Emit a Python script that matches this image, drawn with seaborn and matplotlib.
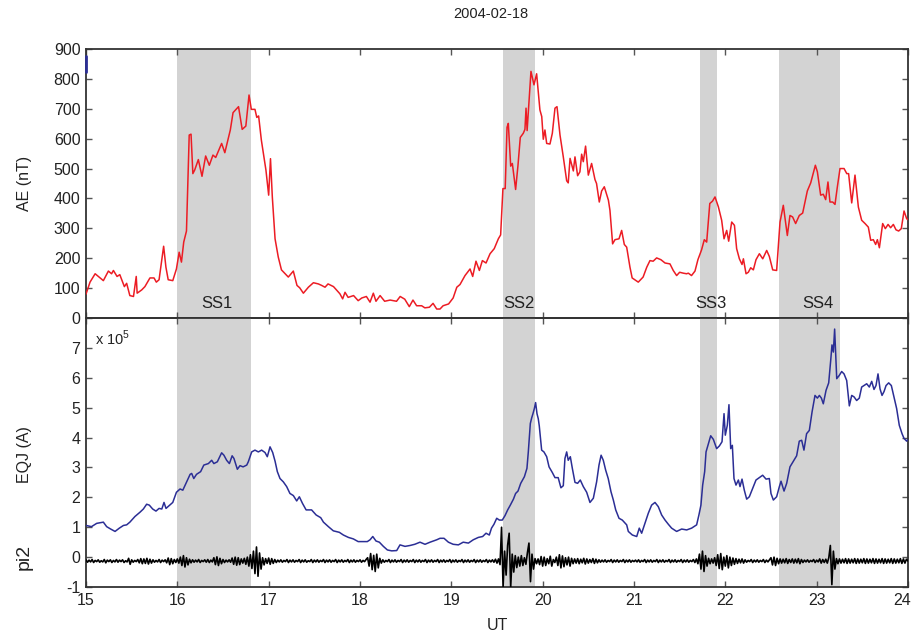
import numpy as np
import pandas as pd
import matplotlib
matplotlib.use("Agg")
import matplotlib.pyplot as plt
import matplotlib.transforms as mtransforms
import seaborn as sns

# ---------------- data ----------------
title = "2004-02-18"

ss_labels = ["SS1", "SS2", "SS3", "SS4"]
ss_start = [16.00, 19.565, 21.722, 22.588]
ss_end = [16.805, 19.916, 21.905, 23.256]
ss_label_t = [16.43, 19.74, 21.84, 23.01]

ae_t = [15.0, 15.044, 15.10, 15.19, 15.245, 15.28, 15.30, 15.34, 15.37, 15.42, 15.445, 15.48, 15.52, 15.55, 15.56,
        15.61, 15.645, 15.70, 15.745, 15.77, 15.80, 15.85, 15.875, 15.90, 15.95, 15.99, 16.02, 16.045, 16.07, 16.10,
        16.13, 16.15, 16.17, 16.19, 16.23, 16.27, 16.31, 16.35, 16.39, 16.42, 16.485, 16.52, 16.58, 16.61, 16.67,
        16.71, 16.75, 16.785, 16.81, 16.85, 16.87, 16.89, 16.92, 16.97, 17.0, 17.02, 17.04, 17.07, 17.105, 17.14,
        17.215, 17.27, 17.31, 17.34, 17.38, 17.435, 17.49, 17.544, 17.58, 17.617, 17.65, 17.71, 17.78, 17.81, 17.836,
        17.87, 17.93, 17.98, 18.02, 18.07, 18.11, 18.146, 18.175, 18.22, 18.27, 18.33, 18.40, 18.44, 18.49, 18.54,
        18.58, 18.62, 18.675, 18.71, 18.76, 18.80, 18.84, 18.876, 18.91, 18.97, 19.02, 19.06, 19.095, 19.15, 19.205,
        19.234, 19.27, 19.307, 19.34, 19.38, 19.424, 19.47, 19.515, 19.54, 19.565, 19.59, 19.61, 19.624, 19.65, 19.668,
        19.704, 19.73, 19.755, 19.788, 19.806, 19.818, 19.83, 19.872, 19.905, 19.934, 19.97, 19.99, 20.007, 20.025,
        20.044, 20.08, 20.106, 20.135, 20.157, 20.19, 20.226, 20.263, 20.28, 20.30, 20.336, 20.354, 20.383, 20.408,
        20.427, 20.445, 20.47, 20.50, 20.536, 20.573, 20.59, 20.62, 20.646, 20.675, 20.72, 20.737, 20.766, 20.792,
        20.836, 20.865, 20.894, 20.92, 20.956, 20.98, 21.047, 21.10, 21.14, 21.175, 21.21, 21.248, 21.295, 21.34,
        21.394, 21.43, 21.467, 21.50, 21.54, 21.576, 21.595, 21.63, 21.668, 21.70, 21.74, 21.77, 21.796, 21.83,
        21.86, 21.887, 21.924, 21.96, 21.986, 22.015, 22.037, 22.07, 22.10, 22.124, 22.154, 22.183, 22.198, 22.227,
        22.252, 22.278, 22.307, 22.336, 22.373, 22.41, 22.453, 22.482, 22.519, 22.562, 22.599, 22.635, 22.679,
        22.708, 22.737, 22.77, 22.81, 22.847, 22.898, 22.935, 22.986, 23.008, 23.044, 23.073, 23.099, 23.124,
        23.146, 23.176, 23.201, 23.227, 23.256, 23.30, 23.33, 23.35, 23.384, 23.42, 23.457, 23.493, 23.53, 23.566,
        23.592, 23.621, 23.646, 23.665, 23.687, 23.723, 23.752, 23.782, 23.81, 23.84, 23.869, 23.898, 23.927,
        23.957, 23.986, 24.0]
ae_nT = [80, 120, 148, 125, 157, 148, 159, 139, 145, 105, 116, 75, 72, 139, 83,
         94, 105, 134, 134, 120, 128, 240, 170, 128, 125, 164, 220, 187, 254, 291,
         612, 615, 483, 495, 530, 474, 542, 511, 545, 537, 584, 553, 629, 687, 707,
         631, 642, 746, 698, 698, 671, 676, 595, 495, 411, 533, 405, 265, 204, 161,
         137, 157, 109, 101, 83, 103, 118, 114, 109, 103, 114, 105, 81, 64, 86,
         69, 75, 58, 67, 72, 53, 83, 56, 75, 56, 60, 56, 72, 63, 38,
         60, 41, 41, 34, 36, 49, 30, 30, 41, 47, 67, 103, 112, 142, 164,
         139, 190, 159, 192, 184, 215, 232, 265, 278, 433, 433, 638, 651, 508, 517,
         430, 511, 604, 618, 631, 702, 627, 825, 780, 817, 696, 674, 598, 629,
         584, 582, 618, 702, 707, 612, 539, 459, 452, 534, 492, 539, 476, 489,
         548, 523, 575, 478, 517, 463, 450, 388, 425, 439, 394, 360, 248, 262,
         265, 293, 246, 237, 170, 134, 120, 137, 170, 192, 190, 201, 195, 184,
         181, 159, 142, 153, 150, 148, 150, 142, 157, 195, 228, 262, 254, 383,
         391, 405, 372, 327, 265, 293, 257, 321, 310, 232, 198, 179, 198, 148,
         153, 168, 161, 195, 215, 198, 226, 206, 161, 159, 321, 377, 276,
         343, 338, 316, 343, 351, 425, 452, 511, 489, 411, 414, 396, 455,
         388, 388, 380, 439, 500, 500, 483, 483, 385, 478, 371, 327, 316, 304,
         260, 262, 246, 262, 235, 316, 299, 313, 302, 313, 295, 291, 299,
         358, 332, 329]

# small blue trace visible at the top-left corner of the AE panel
corner_t = [15.0, 15.0]
corner_nT = [822, 875]

eqj_t = [15.0, 15.06, 15.117, 15.19, 15.226, 15.27, 15.318, 15.365, 15.41, 15.445, 15.48, 15.536, 15.59, 15.628,
         15.664, 15.693, 15.73, 15.766, 15.80, 15.83, 15.854, 15.876, 15.91, 15.95, 15.99, 16.03, 16.06, 16.095,
         16.14, 16.157, 16.18, 16.21, 16.255, 16.29, 16.34, 16.376, 16.40, 16.438, 16.485, 16.51, 16.54, 16.57,
         16.60, 16.62, 16.657, 16.686, 16.72, 16.76, 16.777, 16.814, 16.85, 16.887, 16.923, 16.96, 16.985, 17.015,
         17.044, 17.07, 17.095, 17.124, 17.16, 17.197, 17.233, 17.27, 17.307, 17.336, 17.37, 17.41, 17.47, 17.52,
         17.57, 17.60, 17.654, 17.708, 17.774, 17.818, 17.873, 17.927, 17.98, 18.037, 18.08, 18.11, 18.14, 18.175,
         18.212, 18.256, 18.30, 18.347, 18.402, 18.438, 18.493, 18.548, 18.60, 18.657, 18.712, 18.767, 18.84,
         18.876, 18.92, 18.968, 19.02, 19.077, 19.13, 19.187, 19.24, 19.296, 19.343, 19.38, 19.416, 19.44, 19.467,
         19.497, 19.526, 19.558, 19.588, 19.617, 19.646, 19.68, 19.704, 19.73, 19.76, 19.80, 19.828, 19.843,
         19.865, 19.88, 19.894, 19.909, 19.923, 19.938, 19.952, 19.963, 19.989, 20.014, 20.044, 20.07, 20.106,
         20.135, 20.17, 20.20, 20.226, 20.244, 20.263, 20.28, 20.303, 20.325, 20.354, 20.383, 20.412, 20.445,
         20.482, 20.518, 20.555, 20.591, 20.617, 20.64, 20.664, 20.69, 20.718, 20.748, 20.774, 20.80, 20.836,
         20.872, 20.92, 20.938, 20.982, 21.03, 21.058, 21.084, 21.12, 21.157, 21.193, 21.23, 21.266, 21.303,
         21.34, 21.376, 21.412, 21.467, 21.522, 21.577, 21.631, 21.686, 21.711, 21.733, 21.752, 21.774, 21.789,
         21.81, 21.84, 21.869, 21.905, 21.935, 21.964, 21.986, 22.0, 22.022, 22.04, 22.059, 22.077, 22.095,
         22.117, 22.143, 22.161, 22.183, 22.208, 22.234, 22.263, 22.30, 22.336, 22.373, 22.409, 22.446, 22.482,
         22.50, 22.526, 22.562, 22.592, 22.61, 22.643, 22.672, 22.708, 22.745, 22.781, 22.81, 22.836, 22.861,
         22.89, 22.92, 22.95, 22.982, 23.008, 23.03, 23.052, 23.073, 23.103, 23.132, 23.154, 23.168, 23.183,
         23.197, 23.208, 23.22, 23.248, 23.274, 23.30, 23.329, 23.358, 23.384, 23.41, 23.438, 23.467, 23.493,
         23.519, 23.548, 23.577, 23.603, 23.628, 23.65, 23.672, 23.694, 23.716, 23.738, 23.76, 23.789, 23.818,
         23.847, 23.876, 23.905, 23.935, 23.957, 23.986, 24.0]
eqj_1e5A = [1.06, 1.02, 1.13, 1.17, 1.02, 0.94, 0.86, 0.97, 1.06, 1.08, 1.17, 1.36, 1.50, 1.61,
            1.77, 1.74, 1.61, 1.54, 1.63, 1.61, 1.83, 1.63, 1.72, 1.83, 2.17, 2.28, 2.24, 2.47,
            2.77, 2.80, 2.63, 2.77, 2.86, 3.08, 3.13, 3.24, 3.13, 3.19, 3.49, 3.41, 3.24, 3.13,
            3.39, 3.30, 2.94, 3.06, 3.02, 3.08, 3.19, 3.52, 3.58, 3.52, 3.58, 3.50, 3.36, 3.69,
            3.50, 3.21, 2.86, 2.63, 2.52, 2.36, 2.13, 2.06, 1.88, 2.02, 1.80, 1.58, 1.58, 1.41,
            1.32, 1.17, 1.02, 0.88, 0.83, 0.74, 0.66, 0.61, 0.52, 0.52, 0.52, 0.58, 0.69, 0.54,
            0.50, 0.36, 0.24, 0.21, 0.22, 0.41, 0.36, 0.39, 0.43, 0.50, 0.43, 0.50, 0.58,
            0.63, 0.63, 0.50, 0.43, 0.41, 0.50, 0.47, 0.58, 0.66, 0.69, 0.80, 0.74, 0.97, 1.10,
            1.30, 1.24, 1.24, 1.39, 1.58, 1.74, 1.94, 2.13, 2.21, 2.47, 2.69, 2.97, 3.52,
            4.47, 4.66, 4.80, 4.97, 5.17, 4.80, 4.63, 4.39, 3.58, 3.52, 3.36, 3.02, 2.83,
            2.66, 2.66, 2.32, 2.39, 3.30, 3.52, 3.24, 3.36, 2.97, 2.50, 2.47, 2.58, 2.36,
            2.17, 1.83, 1.97, 2.52, 3.08, 3.41, 3.24, 2.91, 2.63, 2.19, 1.91, 1.58, 1.30,
            1.24, 1.08, 0.86, 0.74, 0.69, 0.97, 0.80, 1.13, 1.47, 1.74, 1.83, 1.69, 1.41,
            1.24, 1.10, 0.97, 0.86, 0.94, 0.91, 0.97, 1.08, 1.41, 1.74, 2.41, 2.86, 3.52,
            3.74, 4.06, 3.94, 3.63, 3.72, 3.86, 4.80, 4.08, 4.41, 5.10, 3.63, 3.74, 2.63,
            2.41, 2.58, 2.36, 2.61, 2.24, 1.94, 2.02, 2.30, 2.58, 2.66, 2.74, 2.61, 2.63,
            2.13, 1.91, 2.02, 2.36, 2.54, 2.21, 2.47, 3.02, 3.21, 3.39, 3.88, 3.91, 3.58,
            4.13, 4.24, 4.86, 5.41, 5.32, 5.41, 5.32, 5.13, 5.58, 5.83, 6.58, 7.10, 6.86,
            7.63, 6.80, 5.97, 6.08, 6.21, 6.13, 5.91, 5.06, 5.41, 5.36, 5.24, 5.32, 5.69,
            5.74, 5.80, 5.69, 5.88, 5.61, 5.74, 6.13, 5.63, 5.41, 5.54, 5.74, 5.83, 5.74,
            5.36, 4.97, 4.41, 4.13, 3.97, 3.88, 3.94]

# pi2 pulsation trace, one sample per minute, in hundredths (per hour of UT)
pi2_h15 = [-9, -17, -10, -16, -8, -18, -11, -15, -9, -17, -12, -16, -8, -19, -10, -15, -9, -18, -11, -16,
           -8, -17, -10, -15, -9, -18, -12, -16, -4, -24, -9, -17, -11, -15, -8, -19, -5, -22, -6, -21,
           -4, -23, -7, -20, -9, -17, -11, -16, -8, -18, -10, -15, -9, -19, -3, -25, -5, -22, -8, -18]
pi2_h16 = [-6, -20, 0, -28, 5, -33, -2, -26, -7, -19, -9, -17, -10, -16, -8, -18, -11, -15, -9, -17,
           -8, -18, -10, -16, -2, -25, 1, -28, -4, -22, -8, -18, -10, -16, -9, -17, -3, -24, 0, -27,
           -2, -25, -6, -20, -4, -24, 0, -30, 8, -38, 20, -55, 34, -64, 14, -40, -2, -26, -5, -21]
pi2_h17 = [-3, -24, -5, -21, -8, -18, -10, -16, -9, -17, -11, -15, -8, -18, -10, -16, -9, -17, -11, -15,
           -8, -18, -10, -16, -9, -17, -12, -15, -8, -18, -10, -16, -9, -17, -11, -15, -8, -18, -10, -16,
           -9, -17, -11, -15, -8, -18, -10, -16, -9, -17, -11, -15, -8, -18, -10, -16, -9, -17, -11, -15]
pi2_h18 = [-9, -17, -11, -15, -8, -2, -30, 12, -42, 6, -48, 10, -36, -4, -20, -9, -17, -11, -15, -8,
           -18, -10, -16, -9, -17, -11, -15, -8, -18, -10, -16, -9, -17, -11, -15, -8, -18, -10, -16, -9,
           -17, -11, -15, -8, -18, -10, -16, -9, -17, -11, -15, -8, -18, -10, -16, -9, -17, -11, -15, -8]
pi2_h19 = [-18, -10, -16, -9, -17, -11, -15, -8, -18, -10, -16, -9, -17, -11, -15, -8, -18, -10, -16, -9,
           -17, -11, -15, -8, -18, -10, -16, -9, -17, -7, -20, -6, -25, 100, -100, 20, -60, 40, 80, -100,
           10, -50, 5, -35, 0, -30, 5, -28, -2, -24, 15, 47, -82, 10, -40, -5, -22, -6, -25, 2]
pi2_h20 = [-30, 0, -28, -5, -22, 3, -30, -8, -18, 0, -28, 8, -36, 4, -32, -2, -26, 0, -30, -4,
           -22, -6, -20, -5, -22, -7, -19, -4, -23, -6, -20, -8, -18, -5, -21, -7, -19, -9, -17, -10,
           -16, -9, -17, -11, -15, -8, -18, -10, -16, -9, -17, -11, -15, -8, -18, -10, -16, -9, -17, -11]
pi2_h21 = [-15, -10, -16, -9, -17, -11, -15, -8, -18, -10, -16, -9, -17, -11, -15, -8, -18, -10, -16, -9,
           -17, -11, -15, -8, -18, -10, -16, -9, -17, -11, -15, -8, -18, -10, -16, -9, -17, -11, -15, -8,
           -18, -6, -22, 10, -40, 20, -48, 5, -30, -4, -22, -6, -20, -2, -28, 8, -38, 12, -42, 0]
pi2_h22 = [-30, 5, -36, 0, -28, -3, -24, -5, -21, -7, -19, -6, -20, -9, -17, -11, -15, -8, -18, -10,
           -16, -9, -17, -11, -15, -8, -18, -10, -16, -9, -2, -26, 0, -28, -4, -22, -6, -20, -7, -19,
           -5, -21, -8, -18, -6, -20, -7, -19, -5, -22, -8, -18, -10, -16, -9, -17, -11, -15, -8, -18]
pi2_h23 = [-10, -16, -6, -20, -8, -18, -7, -20, -2, 39, -92, 20, -40, -5, -22, -6, -20, -7, -19, -5,
           -21, -6, -20, -7, -19, -5, -21, -6, -20, -7, -19, -5, -21, -6, -20, -7, -19, -5, -21, -6,
           -20, -7, -19, -5, -21, -6, -20, -7, -19, -5, -21, -6, -20, -7, -19, -5, -21, -6, -20, -7]
pi2_h24 = [-13]

x_ticks = [15, 16, 17, 18, 19, 20, 21, 22, 23, 24]
ae_ticks = [0, 100, 200, 300, 400, 500, 600, 700, 800, 900]
eqj_ticks = [-1, 0, 1, 2, 3, 4, 5, 6, 7]

# ---------------- build tables ----------------
ae_df = pd.DataFrame({"UT": ae_t, "AE": ae_nT})
eqj_df = pd.DataFrame({"UT": eqj_t, "EQJ": eqj_1e5A})
pi2_vals = np.array(pi2_h15 + pi2_h16 + pi2_h17 + pi2_h18 + pi2_h19 + pi2_h20 + pi2_h21 + pi2_h22
                    + pi2_h23 + pi2_h24, dtype=float) / 100.0
pi2_df = pd.DataFrame({"UT": 15 + np.arange(len(pi2_vals)) / 60.0, "pi2": pi2_vals})
corner_df = pd.DataFrame({"UT": corner_t, "AE": corner_nT})

# ---------------- style ----------------
sns.set_style("ticks")
plt.rcParams['font.family'] = ['Liberation Sans', 'DejaVu Sans']
plt.rcParams['mathtext.fontset'] = 'custom'
plt.rcParams['mathtext.rm'] = 'Liberation Sans'

RED = "#ec1c24"
BLUE = "#2b2e95"
SHADE = "#d3d3d3"
SPINE = "#333333"

fig = plt.figure(figsize=(9.14, 6.36), dpi=100)
ax1 = fig.add_axes([0.0941, 0.5, 0.8993, 0.423])
ax2 = fig.add_axes([0.0941, 0.077, 0.8993, 0.423])

for ax in (ax1, ax2):
    for s, e in zip(ss_start, ss_end):
        ax.axvspan(s, e, color=SHADE, lw=0, zorder=0)

sns.lineplot(data=ae_df, x="UT", y="AE", ax=ax1, color=RED, linewidth=1.1,
             estimator=None, sort=False, zorder=3)
sns.lineplot(data=corner_df, x="UT", y="AE", ax=ax1, color=BLUE, linewidth=2.0,
             estimator=None, sort=False, zorder=4, clip_on=False)
sns.lineplot(data=eqj_df, x="UT", y="EQJ", ax=ax2, color=BLUE, linewidth=1.1,
             estimator=None, sort=False, zorder=3)
sns.lineplot(data=pi2_df, x="UT", y="pi2", ax=ax2, color="black", linewidth=1.2,
             estimator=None, sort=False, zorder=3)

for lab, lt in zip(ss_labels, ss_label_t):
    ax1.text(lt, 50, lab, ha="center", va="center", fontsize=12, color="#222222", zorder=5)

ax1.set_xlim(15, 24)
ax2.set_xlim(15, 24)
ax1.set_ylim(0, 900)
ax2.set_ylim(-1, 8)
ax1.set_xticks(x_ticks)
ax2.set_xticks(x_ticks)
ax1.set_yticks(ae_ticks)
ax2.set_yticks(eqj_ticks)
ax1.set_xticklabels([])
ax2.set_xticklabels([str(v) for v in x_ticks])
ax1.set_yticklabels([str(v) for v in ae_ticks])
ax2.set_yticklabels([str(v) for v in eqj_ticks])

for ax in (ax1, ax2):
    ax.set_xlabel("")
    ax.set_ylabel("")
    ax.tick_params(direction="in", length=4.5, width=1.0, color="#555555", top=True, right=True,
                   labelsize=11.5, labelcolor="#222222", pad=4)
    for sp in ax.spines.values():
        sp.set_visible(True)
        sp.set_color(SPINE)
        sp.set_linewidth(1.3)
    ax.set_facecolor("none")

# keep the last x tick label inside the canvas
last_lab = ax2.get_xticklabels()[-1]
last_lab.set_transform(last_lab.get_transform() +
                       mtransforms.ScaledTranslation(-4 / 72, 0, fig.dpi_scale_trans))

ax2.text(0.011, 0.926, r"x 10$^{5}$", transform=ax2.transAxes, ha="left", va="center",
         fontsize=10.5, color="#222222")

fig.text(0.537, 0.978, title, ha="center", va="center", fontsize=10.5, color="#222222")
fig.text(0.027, 0.712, "AE (nT)", rotation=90, ha="center", va="center", fontsize=11.5, color="#222222")
fig.text(0.027, 0.285, "EQJ (A)", rotation=90, ha="center", va="center", fontsize=11.5, color="#222222")
fig.text(0.027, 0.124, "pi2", rotation=90, ha="center", va="center", fontsize=14, color="#222222")
fig.text(0.544, 0.017, "UT", ha="center", va="center", fontsize=11.5, color="#222222")

fig.savefig("out.png", dpi=100, facecolor="white")
